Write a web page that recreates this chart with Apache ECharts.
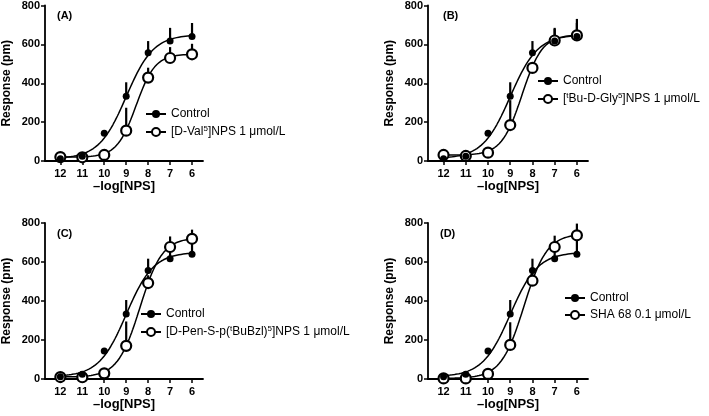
<!DOCTYPE html>
<html>
<head>
<meta charset="utf-8">
<script src="https://cdn.jsdelivr.net/npm/echarts@6/dist/echarts.min.js"></script>
<style>html,body{margin:0;padding:0;background:#fff}#c{width:709px;height:416px}</style>
</head>
<body>
<div id="c"></div>
<script>
// -log[NPS] concentrations
const xTicks = [12, 11, 10, 9, 8, 7, 6];
const yTicks = [0, 200, 400, 600, 800];

// Control (same experiment in all panels)
const controlMean = [12, 25, 143, 333, 557, 617, 640];
const controlErr  = [0, 0, 0, 72, 60, 68, 70];
// fitted logistic parameters: [bottom, top, pEC50, hill]
const controlFit = [12, 650, 9.0, 0.7];

// Panel A: [D-Val5]NPS 1 µmol/L
const valMean = [20, 19, 31, 156, 429, 530, 549];
const valErr  = [0, 0, 0, 118, 51, 56, 54];
const valFit  = [20, 550, 8.55, 1.0];

// Panel B: [tBu-D-Gly5]NPS 1 µmol/L
const glyMean = [31, 26, 43, 185, 479, 620, 646];
const glyErr  = [0, 0, 0, 128, 30, 60, 85];
const glyFit  = [30, 650, 8.47, 0.95];

// Panel C: [D-Pen-S-p(tBuBzl)5]NPS 1 µmol/L
const penMean = [10, 9, 29, 170, 492, 677, 719];
const penErr  = [0, 0, 0, 125, 40, 54, 47];
const penFit  = [10, 725, 8.37, 0.86];

// Panel D: SHA 68 0.1 µmol/L
const shaMean = [3, 3, 26, 175, 504, 677, 737];
const shaErr  = [0, 0, 0, 116, 40, 58, 60];
const shaFit  = [3, 745, 8.38, 0.84];

const panelLetters = ['(A)', '(B)', '(C)', '(D)'];
const testNames = ['[D-Val5]NPS 1 μmol/L', '[tBu-D-Gly5]NPS 1 μmol/L', '[D-Pen-S-p(tBuBzl)5]NPS 1 μmol/L', 'SHA 68 0.1 μmol/L'];
const testRich = [
  '[D-Val{sup|5}]NPS 1 μmol/L',
  '[{sup|t}Bu-D-Gly{sup|5}]NPS 1 μmol/L',
  '[D-Pen-S-p({sup|t}BuBzl){sup|5}]NPS 1 μmol/L',
  'SHA 68 0.1 μmol/L'
];
const testMeans = [valMean, glyMean, penMean, shaMean];
const testErrs = [valErr, glyErr, penErr, shaErr];
const testFits = [valFit, glyFit, penFit, shaFit];

// layout
const grids = [
  {left: 43, top: 5, width: 160, height: 156},
  {left: 428, top: 5, width: 160, height: 156},
  {left: 43, top: 223, width: 160, height: 156},
  {left: 428, top: 223, width: 160, height: 156}
];
const legendPos = [
  {left: 145, top: 108},
  {left: 537, top: 75},
  {left: 140, top: 308},
  {left: 564, top: 292}
];
const labelPos = [[57, 10], [443, 10], [57, 228], [440, 228]];

function fitCurve(p) {
  const [b, t, x0, h] = p;
  const out = [];
  for (let i = 0; i <= 120; i++) {
    const x = 12 - i * 0.05;
    out.push([x, b + (t - b) / (1 + Math.pow(10, (x - x0) * h))]);
  }
  return out;
}
function pts(mean) { return xTicks.map((x, i) => [x, mean[i]]); }
function errPts(mean, err) { return xTicks.map((x, i) => [x, mean[i], err[i]]); }

function errRender(params, api) {
  const x = api.value(0), y = api.value(1), e = api.value(2);
  if (!e) return null;
  const p0 = api.coord([x, y]);
  const p1 = api.coord([x, y + e]);
  return {type: 'line', shape: {x1: p0[0], y1: p0[1], x2: p1[0], y2: p1[1]},
          style: {stroke: '#000', lineWidth: 2.2}};
}

const FONT = 'Liberation Sans, Arial, sans-serif';
const option = {
  backgroundColor: '#fff',
  animation: false,
  grid: grids.map(g => Object.assign({containLabel: false}, g)),
  xAxis: grids.map((g, i) => ({
    gridIndex: i, type: 'value', inverse: true, min: 5.5, max: 12.7,
    name: '–log[NPS]', nameLocation: 'middle', nameGap: 17,
    nameTextStyle: {fontFamily: FONT, fontWeight: 'bold', fontSize: 13, color: '#000'},
    axisLine: {show: true, onZero: false, lineStyle: {color: '#000', width: 1.8}},
    axisTick: {show: true, length: 4, customValues: xTicks, lineStyle: {color: '#000', width: 1.5}},
    axisLabel: {customValues: xTicks, fontFamily: FONT, fontWeight: 'bold', fontSize: 11, color: '#000', margin: 7},
    splitLine: {show: false}
  })),
  yAxis: grids.map((g, i) => ({
    gridIndex: i, type: 'value', min: 0, max: 800, interval: 200,
    name: 'Response (pm)', nameLocation: 'middle', nameGap: 32, nameRotate: 90,
    nameTextStyle: {fontFamily: FONT, fontWeight: 'bold', fontSize: 12, color: '#000'},
    axisLine: {show: true, lineStyle: {color: '#000', width: 1.8}},
    axisTick: {show: true, length: 4, lineStyle: {color: '#000', width: 1.5}},
    axisLabel: {fontFamily: FONT, fontWeight: 'bold', fontSize: 11, color: '#000', margin: 5},
    splitLine: {show: false}
  })),
  legend: grids.map((g, i) => ({
    left: legendPos[i].left, top: legendPos[i].top, orient: 'vertical',
    itemWidth: 20, itemHeight: 10, itemGap: 5, padding: 0,
    data: [
      {name: 'Control', itemStyle: {color: '#000', opacity: 1}},
      {name: testNames[i], itemStyle: {color: '#000', opacity: 1}}
    ],
    formatter: name => name === 'Control' ? 'Control' : testRich[i],
    textStyle: {fontFamily: FONT, fontSize: 12, color: '#000',
      rich: {sup: {fontFamily: FONT, fontSize: 8, verticalAlign: 'bottom', padding: [0, 0, 6, 0], color: '#000'}}}
  })),
  graphic: panelLetters.map((t, i) => ({
    type: 'text', left: labelPos[i][0], top: labelPos[i][1],
    style: {text: t, font: 'bold 11px ' + FONT, fill: '#000'}
  })),
  series: []
};

grids.forEach((g, i) => {
  option.series.push(
    {type: 'line', name: 'Control', xAxisIndex: i, yAxisIndex: i, data: fitCurve(controlFit),
     showSymbol: false, symbol: 'circle', symbolSize: 7, itemStyle: {color: '#000'},
     lineStyle: {color: '#000', width: 1.5}, z: 2, silent: true},
    {type: 'line', name: testNames[i], xAxisIndex: i, yAxisIndex: i, data: fitCurve(testFits[i]),
     showSymbol: false, symbol: 'emptyCircle', symbolSize: 9, itemStyle: {color: '#000', borderWidth: 2},
     lineStyle: {color: '#000', width: 1.5}, z: 2, silent: true},
    {type: 'custom', xAxisIndex: i, yAxisIndex: i, renderItem: errRender,
     data: errPts(controlMean, controlErr), z: 3, silent: true},
    {type: 'custom', xAxisIndex: i, yAxisIndex: i, renderItem: errRender,
     data: errPts(testMeans[i], testErrs[i]), z: 3, silent: true},
    {type: 'scatter', xAxisIndex: i, yAxisIndex: i, data: pts(testMeans[i]),
     symbol: 'circle', symbolSize: 10, itemStyle: {color: '#fff', borderColor: '#000', borderWidth: 2.2, opacity: 1}, z: 4},
    {type: 'scatter', xAxisIndex: i, yAxisIndex: i, data: pts(controlMean),
     symbol: 'circle', symbolSize: 7, itemStyle: {color: '#000', opacity: 1}, z: 5}
  );
});

const chart = echarts.init(document.getElementById('c'), null, {renderer: 'canvas'});
chart.setOption(option);
</script>
</body>
</html>
